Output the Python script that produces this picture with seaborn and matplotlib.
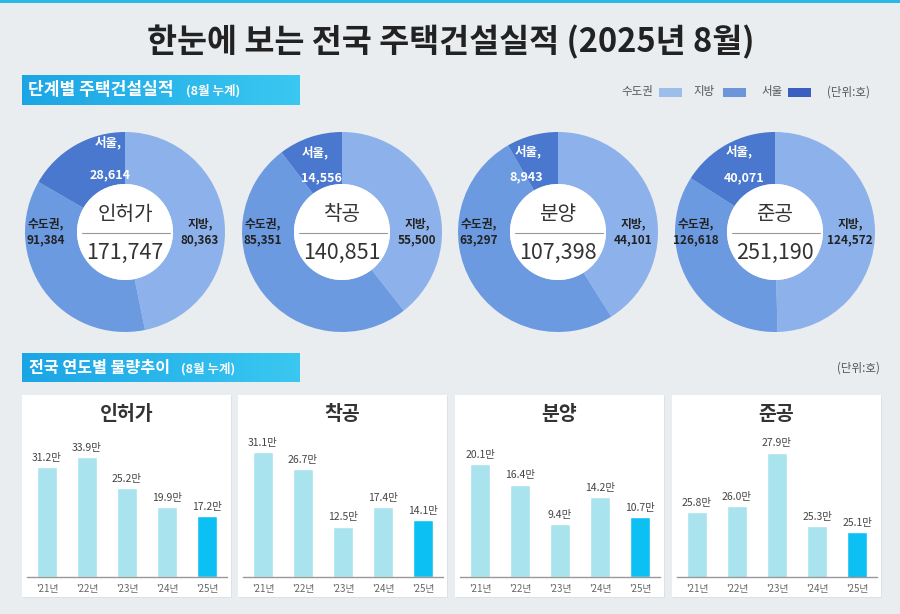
import numpy as np
import pandas as pd
import matplotlib
matplotlib.use("Agg")
import matplotlib.pyplot as plt
from matplotlib.patches import Rectangle, Circle
import seaborn as sns

sns.set_theme(style="white")
plt.rcParams['font.family'] = ['Noto Sans CJK KR', 'DejaVu Sans']

# ---------------- data ----------------
stages = ["인허가", "착공", "분양", "준공"]
totals = [171747, 140851, 107398, 251190]
sudo = [91384, 85351, 63297, 126618]      # 수도권
jibang = [80363, 55500, 44101, 124572]    # 지방
seoul = [28614, 14556, 8943, 40071]       # 서울 (수도권 내)

years = ["'21년", "'22년", "'23년", "'24년", "'25년"]
permit = [31.2, 33.9, 25.2, 19.9, 17.2]
start = [31.1, 26.7, 12.5, 17.4, 14.1]
sale = [20.1, 16.4, 9.4, 14.2, 10.7]
complete = [25.8, 26.0, 27.9, 25.3, 25.1]
series = [permit, start, sale, complete]

legend_labels = ["수도권", "지방", "서울"]

# ---------------- style ----------------
BG = "#E9EDF0"
C_LIGHT, C_MED, C_DARK = "#8DB1EA", "#6C9AE1", "#4A78CF"
LEG_COLS = ["#9DBDEB", "#6D95DA", "#3A5FC0"]
BAR_LIGHT, BAR_HI = "#A8E3EE", "#0DC0F3"

W, H = 900, 614
fig = plt.figure(figsize=(W / 100, H / 100), dpi=100)
fig.patch.set_facecolor(BG)

bg = fig.add_axes([0, 0, 1, 1])
bg.set_xlim(0, W)
bg.set_ylim(H, 0)
bg.axis("off")
bg.set_zorder(-5)


def fax(x0, y0, w, h):
    return fig.add_axes([x0 / W, 1 - (y0 + h) / H, w / W, h / H])


# top accent line
bg.add_patch(Rectangle((0, 0), W, 3, color="#2BB8E8", lw=0))

# title
bg.text(451, 42, "한눈에 보는 전국 주택건설실적 (2025년 8월)", ha="center", va="center",
        fontsize=23.5, fontweight="bold", color="#222222")

# gradient header boxes
grad = np.linspace(0, 1, 256)[None, :]
cmap = matplotlib.colors.LinearSegmentedColormap.from_list("hdr", ["#1BA5E5", "#3AC8F1"])


def header(y0, y1, main, sub, x_main, x_sub, fs):
    bg.imshow(grad, cmap=cmap, extent=(22, 300, y1, y0), aspect="auto", zorder=1)
    yc = (y0 + y1) / 2
    bg.text(x_main, yc, main, ha="left", va="center", fontsize=fs, fontweight="bold",
            color="white", zorder=2)
    bg.text(x_sub, yc + 1, sub, ha="left", va="center", fontsize=9, fontweight="bold",
            color="white", zorder=2)


header(75, 105, "단계별 주택건설실적", "(8월 누계)", 28, 186, 12.3)
header(353, 382, "전국 연도별 물량추이", "(8월 누계)", 29, 181, 11.6)
bg.set_xlim(0, W)
bg.set_ylim(H, 0)

# legend (top right)
leg_x_text = [653, 715, 783]
leg_x_box = [659, 723, 788]
for lab, col, xt, xb in zip(legend_labels, LEG_COLS, leg_x_text, leg_x_box):
    bg.text(xt, 92, lab, ha="right", va="center", fontsize=8.3, color="#555555")
    bg.add_patch(Rectangle((xb, 88), 23, 9, color=col, lw=0))
bg.text(870, 92, "(단위:호)", ha="right", va="center", fontsize=8.3, color="#555555")
bg.text(880, 368, "(단위:호)", ha="right", va="center", fontsize=8.3, color="#555555")

# ---------------- donuts ----------------
donut_cx = [125, 342, 558, 775]
donut_cy = 232
R = 100
seoul_pos = [(-0.17, 0.89, -0.15, 0.57), (-0.27, 0.79, -0.21, 0.54),
             (-0.30, 0.80, -0.32, 0.55), (-0.355, 0.80, -0.31, 0.54)]

for i, stage in enumerate(stages):
    ax = fax(donut_cx[i] - R, donut_cy - R, 2 * R, 2 * R)
    vals = [jibang[i], sudo[i] - seoul[i], seoul[i]]
    ax.pie(vals, colors=[C_LIGHT, C_MED, C_DARK], startangle=90, counterclock=False,
           radius=1, wedgeprops=dict(width=0.52, edgecolor="none"))
    ax.add_patch(Circle((0, 0), 0.48, color="white", lw=0, zorder=3))
    ax.set_xlim(-1, 1)
    ax.set_ylim(-1, 1)
    ax.set_aspect("equal")
    ax.axis("off")
    ax.text(0, 0.17, stage, ha="center", va="center", fontsize=14.5, color="#333333", zorder=4)
    ax.plot([-0.43, 0.45], [-0.01, -0.01], color="#999999", lw=0.8, zorder=4)
    ax.text(0, -0.21, f"{totals[i]:,}", ha="center", va="center", fontsize=15.5,
            color="#333333", zorder=4)
    sx1, sy1, sx2, sy2 = seoul_pos[i]
    ax.text(sx1, sy1, "서울,", ha="center", va="center", fontsize=9, fontweight="bold",
            color="white", zorder=4)
    ax.text(sx2, sy2, f"{seoul[i]:,}", ha="center", va="center", fontsize=9,
            fontweight="bold", color="white", zorder=4)
    ax.text(-0.79, 0.0, f"수도권,\n{sudo[i]:,}", ha="center", va="center", fontsize=8.5,
            fontweight="bold", color="#222222", linespacing=1.3, zorder=4)
    ax.text(0.75, 0.0, f"지방,\n{jibang[i]:,}", ha="center", va="center", fontsize=8.5,
            fontweight="bold", color="#222222", linespacing=1.3, zorder=4)

# ---------------- bar panels ----------------
panel_left = [22, 238, 455, 672]
panel_w = 209
ybottoms = [0, 0, 0, 23.5]
ytops = [41.7, 36.5, 26.1, 28.7]

for i, stage in enumerate(stages):
    pl = panel_left[i]
    bg.add_patch(Rectangle((pl + 1, 396), panel_w, 202, color="#DDE1E5", lw=0, zorder=0))
    bg.add_patch(Rectangle((pl, 395), panel_w, 202, color="white", lw=0, zorder=0))
    bg.text(pl + panel_w / 2, 414, stage, ha="center", va="center", fontsize=14,
            fontweight="bold", color="#333333")
    ax = fax(pl + 5, 430, 200, 147)
    df = pd.DataFrame({"year": years, "value": series[i]})
    cols = [BAR_LIGHT] * (len(years) - 1) + [BAR_HI]
    sns.barplot(data=df, x="year", y="value", hue="year", palette=cols, legend=False,
                width=0.52, ax=ax, saturation=1)
    ax.set_facecolor("none")
    ax.set_xlim(-0.5, 4.5)
    ax.set_ylim(ybottoms[i], ytops[i])
    for c in ax.containers:
        ax.bar_label(c, labels=[f"{v}만" for v in c.datavalues], padding=3,
                     fontsize=7.5, color="#444444")
    ax.set_xlabel("")
    ax.set_ylabel("")
    ax.set_yticks([])
    ax.tick_params(axis="x", length=0, pad=5, labelsize=7, labelcolor="#666666")
    for s in ["top", "right", "left"]:
        ax.spines[s].set_visible(False)
    ax.spines["bottom"].set_color("#999999")
    ax.spines["bottom"].set_linewidth(1)

fig.savefig("out.png", dpi=100, facecolor=fig.get_facecolor())
